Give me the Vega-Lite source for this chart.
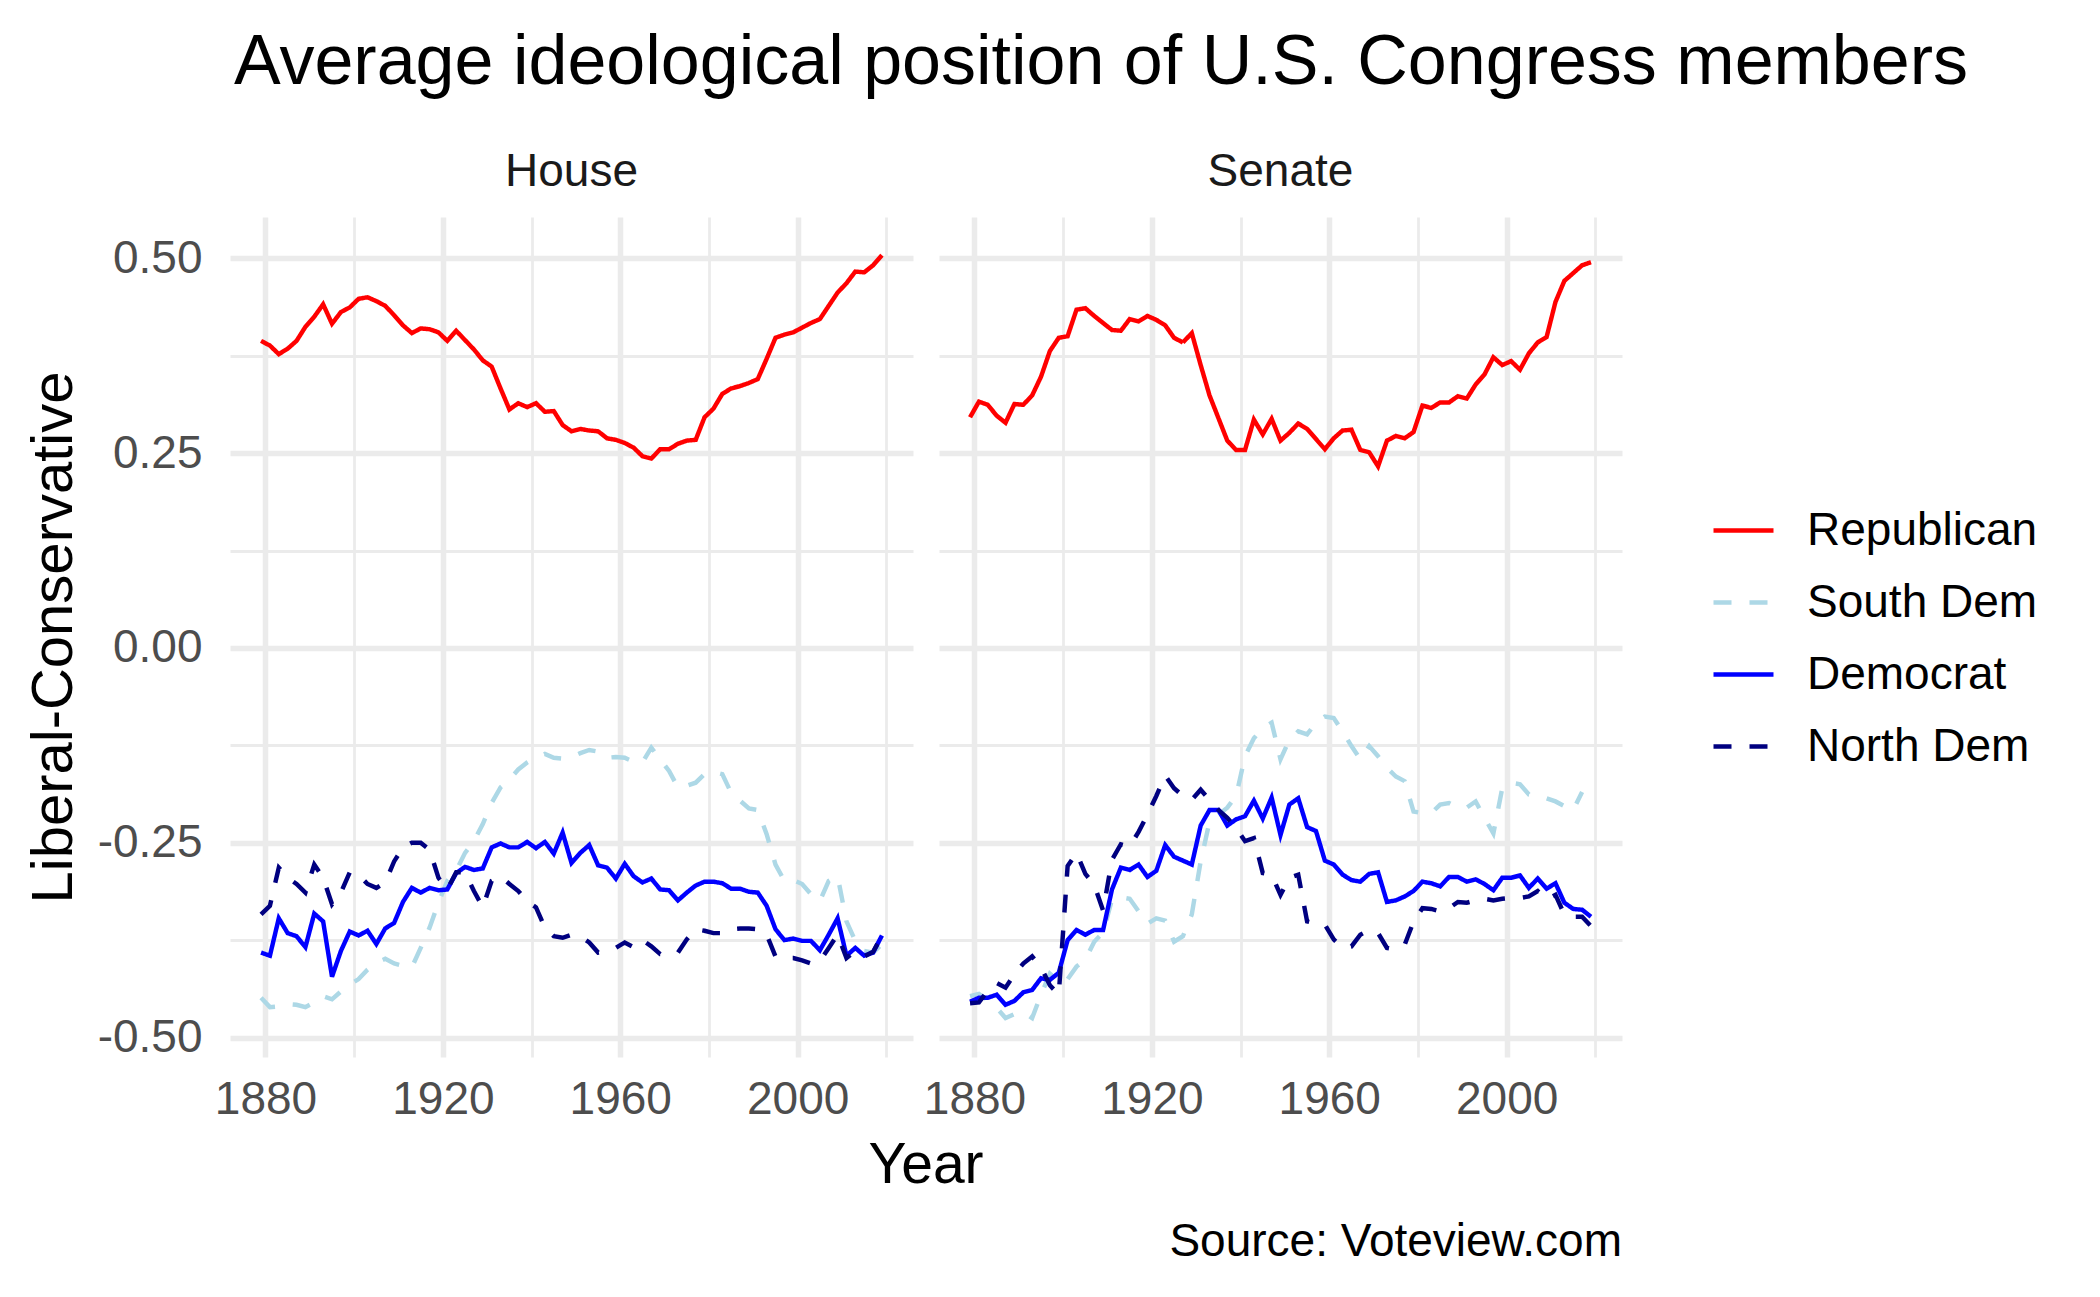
{
  "$schema": "https://vega.github.io/schema/vega-lite/v6.json",
  "padding": {"left": 25, "top": 28, "right": 40, "bottom": 20},
  "background": "white",
  "config": {
    "font": "Liberation Sans",
    "view": {"stroke": null},
    "axis": {"domain": false, "ticks": false, "tickSize": 0, "gridColor": "#EBEBEB", "labelFont": "Liberation Sans", "titleFont": "Liberation Sans"}
  },
  "title": {"text": "Average ideological position of U.S. Congress members", "anchor": "start", "frame": "group", "dx": 4, "fontSize": 70, "fontWeight": "normal", "color": "black", "font": "Liberation Sans", "offset": 50},
  "vconcat": [
    {
      "title": {"text": "Source: Voteview.com", "orient": "bottom", "anchor": "end", "frame": "bounds", "fontSize": 46, "fontWeight": "normal", "color": "black", "font": "Liberation Sans", "offset": 26},
      "data": {"values": [
        {"c":"House","yr":1879,"Republican":0.394,"South Dem":-0.449,"Democrat":-0.391,"North Dem":-0.342},
        {"c":"House","yr":1881,"Republican":0.388,"South Dem":-0.461,"Democrat":-0.395,"North Dem":-0.331},
        {"c":"House","yr":1883,"Republican":0.377,"South Dem":-0.460,"Democrat":-0.347,"North Dem":-0.282},
        {"c":"House","yr":1885,"Republican":0.384,"South Dem":-0.457,"Democrat":-0.366,"North Dem":-0.295},
        {"c":"House","yr":1887,"Republican":0.394,"South Dem":-0.458,"Democrat":-0.370,"North Dem":-0.303},
        {"c":"House","yr":1889,"Republican":0.412,"South Dem":-0.461,"Democrat":-0.384,"North Dem":-0.314},
        {"c":"House","yr":1891,"Republican":0.425,"South Dem":-0.455,"Democrat":-0.341,"North Dem":-0.278},
        {"c":"House","yr":1893,"Republican":0.441,"South Dem":-0.447,"Democrat":-0.351,"North Dem":-0.295},
        {"c":"House","yr":1895,"Republican":0.416,"South Dem":-0.451,"Democrat":-0.422,"North Dem":-0.329},
        {"c":"House","yr":1897,"Republican":0.431,"South Dem":-0.441,"Democrat":-0.389,"North Dem":-0.314},
        {"c":"House","yr":1899,"Republican":0.437,"South Dem":-0.432,"Democrat":-0.364,"North Dem":-0.288},
        {"c":"House","yr":1901,"Republican":0.448,"South Dem":-0.425,"Democrat":-0.369,"North Dem":-0.291},
        {"c":"House","yr":1903,"Republican":0.450,"South Dem":-0.413,"Democrat":-0.363,"North Dem":-0.303},
        {"c":"House","yr":1905,"Republican":0.445,"South Dem":-0.404,"Democrat":-0.380,"North Dem":-0.308},
        {"c":"House","yr":1907,"Republican":0.439,"South Dem":-0.399,"Democrat":-0.360,"North Dem":-0.301},
        {"c":"House","yr":1909,"Republican":0.427,"South Dem":-0.405,"Democrat":-0.353,"North Dem":-0.274},
        {"c":"House","yr":1911,"Republican":0.414,"South Dem":-0.408,"Democrat":-0.326,"North Dem":-0.256},
        {"c":"House","yr":1913,"Republican":0.404,"South Dem":-0.410,"Democrat":-0.308,"North Dem":-0.250},
        {"c":"House","yr":1915,"Republican":0.410,"South Dem":-0.385,"Democrat":-0.314,"North Dem":-0.250},
        {"c":"House","yr":1917,"Republican":0.409,"South Dem":-0.359,"Democrat":-0.308,"North Dem":-0.259},
        {"c":"House","yr":1919,"Republican":0.405,"South Dem":-0.327,"Democrat":-0.311,"North Dem":-0.295},
        {"c":"House","yr":1921,"Republican":0.394,"South Dem":-0.299,"Democrat":-0.310,"North Dem":-0.310},
        {"c":"House","yr":1923,"Republican":0.407,"South Dem":-0.286,"Democrat":-0.289,"North Dem":-0.288},
        {"c":"House","yr":1925,"Republican":0.395,"South Dem":-0.263,"Democrat":-0.281,"North Dem":-0.288},
        {"c":"House","yr":1927,"Republican":0.383,"South Dem":-0.248,"Democrat":-0.285,"North Dem":-0.312},
        {"c":"House","yr":1929,"Republican":0.369,"South Dem":-0.226,"Democrat":-0.283,"North Dem":-0.333},
        {"c":"House","yr":1931,"Republican":0.361,"South Dem":-0.199,"Democrat":-0.256,"North Dem":-0.299},
        {"c":"House","yr":1933,"Republican":0.333,"South Dem":-0.179,"Democrat":-0.251,"North Dem":-0.293},
        {"c":"House","yr":1935,"Republican":0.306,"South Dem":-0.169,"Democrat":-0.256,"North Dem":-0.303},
        {"c":"House","yr":1937,"Republican":0.314,"South Dem":-0.156,"Democrat":-0.256,"North Dem":-0.312},
        {"c":"House","yr":1939,"Republican":0.309,"South Dem":-0.147,"Democrat":-0.249,"North Dem":-0.325},
        {"c":"House","yr":1941,"Republican":0.314,"South Dem":-0.141,"Democrat":-0.257,"North Dem":-0.333},
        {"c":"House","yr":1943,"Republican":0.303,"South Dem":-0.136,"Democrat":-0.249,"North Dem":-0.359},
        {"c":"House","yr":1945,"Republican":0.304,"South Dem":-0.141,"Democrat":-0.264,"North Dem":-0.370},
        {"c":"House","yr":1947,"Republican":0.286,"South Dem":-0.142,"Democrat":-0.237,"North Dem":-0.372},
        {"c":"House","yr":1949,"Republican":0.278,"South Dem":-0.140,"Democrat":-0.276,"North Dem":-0.368},
        {"c":"House","yr":1951,"Republican":0.281,"South Dem":-0.135,"Democrat":-0.263,"North Dem":-0.370},
        {"c":"House","yr":1953,"Republican":0.279,"South Dem":-0.131,"Democrat":-0.253,"North Dem":-0.378},
        {"c":"House","yr":1955,"Republican":0.278,"South Dem":-0.133,"Democrat":-0.279,"North Dem":-0.391},
        {"c":"House","yr":1957,"Republican":0.269,"South Dem":-0.141,"Democrat":-0.282,"North Dem":-0.389},
        {"c":"House","yr":1959,"Republican":0.267,"South Dem":-0.140,"Democrat":-0.296,"North Dem":-0.385},
        {"c":"House","yr":1961,"Republican":0.263,"South Dem":-0.141,"Democrat":-0.277,"North Dem":-0.378},
        {"c":"House","yr":1963,"Republican":0.257,"South Dem":-0.146,"Democrat":-0.293,"North Dem":-0.384},
        {"c":"House","yr":1965,"Republican":0.246,"South Dem":-0.147,"Democrat":-0.301,"North Dem":-0.375},
        {"c":"House","yr":1967,"Republican":0.243,"South Dem":-0.128,"Democrat":-0.296,"North Dem":-0.383},
        {"c":"House","yr":1969,"Republican":0.255,"South Dem":-0.143,"Democrat":-0.310,"North Dem":-0.393},
        {"c":"House","yr":1971,"Republican":0.255,"South Dem":-0.158,"Democrat":-0.311,"North Dem":-0.393},
        {"c":"House","yr":1973,"Republican":0.262,"South Dem":-0.179,"Democrat":-0.324,"North Dem":-0.391},
        {"c":"House","yr":1975,"Republican":0.266,"South Dem":-0.177,"Democrat":-0.314,"North Dem":-0.374},
        {"c":"House","yr":1977,"Republican":0.267,"South Dem":-0.173,"Democrat":-0.305,"North Dem":-0.361},
        {"c":"House","yr":1979,"Republican":0.296,"South Dem":-0.162,"Democrat":-0.300,"North Dem":-0.363},
        {"c":"House","yr":1981,"Republican":0.307,"South Dem":-0.159,"Democrat":-0.300,"North Dem":-0.366},
        {"c":"House","yr":1983,"Republican":0.326,"South Dem":-0.162,"Democrat":-0.302,"North Dem":-0.366},
        {"c":"House","yr":1985,"Republican":0.333,"South Dem":-0.186,"Democrat":-0.309,"North Dem":-0.361},
        {"c":"House","yr":1987,"Republican":0.336,"South Dem":-0.196,"Democrat":-0.309,"North Dem":-0.360},
        {"c":"House","yr":1989,"Republican":0.340,"South Dem":-0.206,"Democrat":-0.313,"North Dem":-0.360},
        {"c":"House","yr":1991,"Republican":0.345,"South Dem":-0.208,"Democrat":-0.314,"North Dem":-0.361},
        {"c":"House","yr":1993,"Republican":0.371,"South Dem":-0.239,"Democrat":-0.331,"North Dem":-0.368},
        {"c":"House","yr":1995,"Republican":0.398,"South Dem":-0.278,"Democrat":-0.361,"North Dem":-0.396},
        {"c":"House","yr":1997,"Republican":0.402,"South Dem":-0.299,"Democrat":-0.375,"North Dem":-0.398},
        {"c":"House","yr":1999,"Republican":0.405,"South Dem":-0.298,"Democrat":-0.373,"North Dem":-0.398},
        {"c":"House","yr":2001,"Republican":0.411,"South Dem":-0.303,"Democrat":-0.376,"North Dem":-0.401},
        {"c":"House","yr":2003,"Republican":0.417,"South Dem":-0.316,"Democrat":-0.376,"North Dem":-0.405},
        {"c":"House","yr":2005,"Republican":0.422,"South Dem":-0.325,"Democrat":-0.388,"North Dem":-0.402},
        {"c":"House","yr":2007,"Republican":0.439,"South Dem":-0.299,"Democrat":-0.368,"North Dem":-0.385},
        {"c":"House","yr":2009,"Republican":0.456,"South Dem":-0.293,"Democrat":-0.347,"North Dem":-0.368},
        {"c":"House","yr":2011,"Republican":0.468,"South Dem":-0.351,"Democrat":-0.395,"North Dem":-0.398},
        {"c":"House","yr":2013,"Republican":0.483,"South Dem":-0.376,"Democrat":-0.385,"North Dem":-0.389},
        {"c":"House","yr":2015,"Republican":0.482,"South Dem":-0.389,"Democrat":-0.395,"North Dem":-0.396},
        {"c":"House","yr":2017,"Republican":0.491,"South Dem":-0.391,"Democrat":-0.391,"North Dem":-0.390},
        {"c":"House","yr":2019,"Republican":0.504,"South Dem":-0.380,"Democrat":-0.369,"North Dem":-0.369},
        {"c":"Senate","yr":1879,"Republican":0.296,"South Dem":-0.447,"Democrat":-0.454,"North Dem":-0.456},
        {"c":"Senate","yr":1881,"Republican":0.316,"South Dem":-0.444,"Democrat":-0.449,"North Dem":-0.455},
        {"c":"Senate","yr":1883,"Republican":0.312,"South Dem":-0.452,"Democrat":-0.449,"North Dem":-0.440},
        {"c":"Senate","yr":1885,"Republican":0.298,"South Dem":-0.462,"Democrat":-0.445,"North Dem":-0.430},
        {"c":"Senate","yr":1887,"Republican":0.289,"South Dem":-0.475,"Democrat":-0.458,"North Dem":-0.436},
        {"c":"Senate","yr":1889,"Republican":0.313,"South Dem":-0.470,"Democrat":-0.453,"North Dem":-0.419},
        {"c":"Senate","yr":1891,"Republican":0.312,"South Dem":-0.467,"Democrat":-0.442,"North Dem":-0.405},
        {"c":"Senate","yr":1893,"Republican":0.324,"South Dem":-0.475,"Democrat":-0.439,"North Dem":-0.396},
        {"c":"Senate","yr":1895,"Republican":0.348,"South Dem":-0.445,"Democrat":-0.424,"North Dem":-0.410},
        {"c":"Senate","yr":1897,"Republican":0.381,"South Dem":-0.418,"Democrat":-0.426,"North Dem":-0.433},
        {"c":"Senate","yr":1899,"Republican":0.398,"South Dem":-0.428,"Democrat":-0.417,"North Dem":-0.445},
        {"c":"Senate","yr":1901,"Republican":0.400,"South Dem":-0.425,"Democrat":-0.375,"North Dem":-0.280},
        {"c":"Senate","yr":1903,"Republican":0.434,"South Dem":-0.409,"Democrat":-0.362,"North Dem":-0.263},
        {"c":"Senate","yr":1905,"Republican":0.436,"South Dem":-0.400,"Democrat":-0.368,"North Dem":-0.290},
        {"c":"Senate","yr":1907,"Republican":0.426,"South Dem":-0.377,"Democrat":-0.362,"North Dem":-0.304},
        {"c":"Senate","yr":1909,"Republican":0.417,"South Dem":-0.365,"Democrat":-0.362,"North Dem":-0.337},
        {"c":"Senate","yr":1911,"Republican":0.408,"South Dem":-0.323,"Democrat":-0.310,"North Dem":-0.272},
        {"c":"Senate","yr":1913,"Republican":0.407,"South Dem":-0.320,"Democrat":-0.282,"North Dem":-0.252},
        {"c":"Senate","yr":1915,"Republican":0.422,"South Dem":-0.322,"Democrat":-0.285,"North Dem":-0.255},
        {"c":"Senate","yr":1917,"Republican":0.419,"South Dem":-0.338,"Democrat":-0.278,"North Dem":-0.236},
        {"c":"Senate","yr":1919,"Republican":0.426,"South Dem":-0.354,"Democrat":-0.294,"North Dem":-0.214},
        {"c":"Senate","yr":1921,"Republican":0.421,"South Dem":-0.347,"Democrat":-0.286,"North Dem":-0.190},
        {"c":"Senate","yr":1923,"Republican":0.414,"South Dem":-0.350,"Democrat":-0.253,"North Dem":-0.164},
        {"c":"Senate","yr":1925,"Republican":0.398,"South Dem":-0.377,"Democrat":-0.268,"North Dem":-0.180},
        {"c":"Senate","yr":1927,"Republican":0.392,"South Dem":-0.370,"Democrat":-0.273,"North Dem":-0.190},
        {"c":"Senate","yr":1929,"Republican":0.404,"South Dem":-0.342,"Democrat":-0.278,"North Dem":-0.195},
        {"c":"Senate","yr":1931,"Republican":0.363,"South Dem":-0.274,"Democrat":-0.228,"North Dem":-0.182},
        {"c":"Senate","yr":1933,"Republican":0.324,"South Dem":-0.223,"Democrat":-0.208,"North Dem":-0.195},
        {"c":"Senate","yr":1935,"Republican":0.295,"South Dem":-0.214,"Democrat":-0.208,"North Dem":-0.208},
        {"c":"Senate","yr":1937,"Republican":0.266,"South Dem":-0.205,"Democrat":-0.228,"North Dem":-0.218},
        {"c":"Senate","yr":1939,"Republican":0.254,"South Dem":-0.190,"Democrat":-0.220,"North Dem":-0.231},
        {"c":"Senate","yr":1941,"Republican":0.254,"South Dem":-0.139,"Democrat":-0.216,"North Dem":-0.248},
        {"c":"Senate","yr":1943,"Republican":0.293,"South Dem":-0.116,"Democrat":-0.196,"North Dem":-0.244},
        {"c":"Senate","yr":1945,"Republican":0.274,"South Dem":-0.103,"Democrat":-0.219,"North Dem":-0.289},
        {"c":"Senate","yr":1947,"Republican":0.294,"South Dem":-0.096,"Democrat":-0.192,"North Dem":-0.291},
        {"c":"Senate","yr":1949,"Republican":0.266,"South Dem":-0.143,"Democrat":-0.240,"North Dem":-0.317},
        {"c":"Senate","yr":1951,"Republican":0.276,"South Dem":-0.118,"Democrat":-0.201,"North Dem":-0.295},
        {"c":"Senate","yr":1953,"Republican":0.288,"South Dem":-0.107,"Democrat":-0.193,"North Dem":-0.291},
        {"c":"Senate","yr":1955,"Republican":0.281,"South Dem":-0.111,"Democrat":-0.230,"North Dem":-0.351},
        {"c":"Senate","yr":1957,"Republican":0.268,"South Dem":-0.096,"Democrat":-0.235,"North Dem":-0.354},
        {"c":"Senate","yr":1959,"Republican":0.255,"South Dem":-0.088,"Democrat":-0.273,"North Dem":-0.355},
        {"c":"Senate","yr":1961,"Republican":0.269,"South Dem":-0.090,"Democrat":-0.278,"North Dem":-0.374},
        {"c":"Senate","yr":1963,"Republican":0.279,"South Dem":-0.107,"Democrat":-0.291,"North Dem":-0.385},
        {"c":"Senate","yr":1965,"Republican":0.280,"South Dem":-0.126,"Democrat":-0.298,"North Dem":-0.383},
        {"c":"Senate","yr":1967,"Republican":0.254,"South Dem":-0.143,"Democrat":-0.300,"North Dem":-0.368},
        {"c":"Senate","yr":1969,"Republican":0.251,"South Dem":-0.126,"Democrat":-0.290,"North Dem":-0.362},
        {"c":"Senate","yr":1971,"Republican":0.233,"South Dem":-0.139,"Democrat":-0.288,"North Dem":-0.366},
        {"c":"Senate","yr":1973,"Republican":0.266,"South Dem":-0.154,"Democrat":-0.326,"North Dem":-0.385},
        {"c":"Senate","yr":1975,"Republican":0.272,"South Dem":-0.165,"Democrat":-0.324,"North Dem":-0.387},
        {"c":"Senate","yr":1977,"Republican":0.269,"South Dem":-0.171,"Democrat":-0.319,"North Dem":-0.381},
        {"c":"Senate","yr":1979,"Republican":0.277,"South Dem":-0.210,"Democrat":-0.312,"North Dem":-0.351},
        {"c":"Senate","yr":1981,"Republican":0.311,"South Dem":-0.212,"Democrat":-0.300,"North Dem":-0.334},
        {"c":"Senate","yr":1983,"Republican":0.308,"South Dem":-0.212,"Democrat":-0.302,"North Dem":-0.335},
        {"c":"Senate","yr":1985,"Republican":0.315,"South Dem":-0.201,"Democrat":-0.306,"North Dem":-0.338},
        {"c":"Senate","yr":1987,"Republican":0.315,"South Dem":-0.199,"Democrat":-0.294,"North Dem":-0.334},
        {"c":"Senate","yr":1989,"Republican":0.323,"South Dem":-0.205,"Democrat":-0.294,"North Dem":-0.326},
        {"c":"Senate","yr":1991,"Republican":0.320,"South Dem":-0.205,"Democrat":-0.300,"North Dem":-0.327},
        {"c":"Senate","yr":1993,"Republican":0.338,"South Dem":-0.197,"Democrat":-0.297,"North Dem":-0.324},
        {"c":"Senate","yr":1995,"Republican":0.351,"South Dem":-0.218,"Democrat":-0.303,"North Dem":-0.322},
        {"c":"Senate","yr":1997,"Republican":0.373,"South Dem":-0.238,"Democrat":-0.311,"North Dem":-0.324},
        {"c":"Senate","yr":1999,"Republican":0.363,"South Dem":-0.180,"Democrat":-0.295,"North Dem":-0.322},
        {"c":"Senate","yr":2001,"Republican":0.368,"South Dem":-0.173,"Democrat":-0.295,"North Dem":-0.321},
        {"c":"Senate","yr":2003,"Republican":0.357,"South Dem":-0.175,"Democrat":-0.292,"North Dem":-0.321},
        {"c":"Senate","yr":2005,"Republican":0.378,"South Dem":-0.188,"Democrat":-0.308,"North Dem":-0.319},
        {"c":"Senate","yr":2007,"Republican":0.392,"South Dem":-0.190,"Democrat":-0.296,"North Dem":-0.312},
        {"c":"Senate","yr":2009,"Republican":0.399,"South Dem":-0.193,"Democrat":-0.309,"North Dem":-0.323},
        {"c":"Senate","yr":2011,"Republican":0.444,"South Dem":-0.197,"Democrat":-0.302,"North Dem":-0.317},
        {"c":"Senate","yr":2013,"Republican":0.471,"South Dem":-0.203,"Democrat":-0.327,"North Dem":-0.342},
        {"c":"Senate","yr":2015,"Republican":0.481,"South Dem":-0.208,"Democrat":-0.335,"North Dem":-0.345},
        {"c":"Senate","yr":2017,"Republican":0.491,"South Dem":-0.185,"Democrat":-0.336,"North Dem":-0.345},
        {"c":"Senate","yr":2019,"Republican":0.495,"South Dem":null,"Democrat":-0.345,"North Dem":-0.357}
      ]},
      "transform": [{"fold": ["Republican", "South Dem", "Democrat", "North Dem"], "as": ["party", "value"]}],
      "facet": {"column": {"field": "c", "type": "nominal", "header": {"title": "Year", "titleOrient": "bottom", "labelOrient": "top", "labelFontSize": 46, "labelColor": "#1A1A1A", "labelFont": "Liberation Sans", "labelPadding": -15, "labelBaseline": "alphabetic", "titleFontSize": 57, "titleFontWeight": "normal", "titleColor": "black", "titleFont": "Liberation Sans", "titlePadding": 6}}},
      "spacing": 26,
      "spec": {
        "width": 683,
        "height": 840,
        "mark": {"type": "line", "strokeWidth": 4.45},
        "encoding": {
          "x": {"field": "yr", "type": "quantitative", "scale": {"domain": [1872, 2026], "nice": false, "zero": false},
            "axis": {"title": null, "values": [1880, 1900, 1920, 1940, 1960, 1980, 2000, 2020], "labelExpr": "(datum.value - 1880) % 40 == 0 ? toString(datum.value) : ''", "labelFontSize": 46, "labelColor": "#4D4D4D", "labelPadding": 20, "labelFlush": false, "labelOverlap": false, "grid": true,
              "gridWidth": {"condition": {"test": "(datum.value - 1880) % 40 == 0", "value": 5.5}, "value": 2.8}}},
          "y": {"field": "value", "type": "quantitative", "scale": {"domain": [-0.525, 0.553], "nice": false, "zero": false},
            "axis": {"title": "Liberal-Conservative", "values": [-0.5, -0.375, -0.25, -0.125, 0, 0.125, 0.25, 0.375, 0.5], "labelExpr": "abs(datum.value*4 - round(datum.value*4)) < 0.001 ? replace(format(datum.value, '.2f'), '\u2212', '-') : ''", "labelFontSize": 46, "labelColor": "#4D4D4D", "labelPadding": 28, "labelOverlap": false, "labelFlush": false, "grid": true,
              "gridWidth": {"condition": {"test": "abs(datum.value*4 - round(datum.value*4)) < 0.001", "value": 5.5}, "value": 2.8},
              "titleFontSize": 58, "titleFontWeight": "normal", "titleColor": "black", "titlePadding": 14}},
          "color": {"field": "party", "type": "nominal", "scale": {"domain": ["Republican", "South Dem", "Democrat", "North Dem"], "range": ["#FF0000", "#ADD8E6", "#0000FF", "#000080"]},
            "legend": {"title": null, "orient": "none", "legendX": 1481, "legendY": 281, "symbolType": "stroke", "symbolSize": 3600, "symbolStrokeWidth": 4.45, "labelFontSize": 46, "labelColor": "black", "labelFont": "Liberation Sans", "labelOffset": 31, "labelLimit": 500, "rowPadding": 16}},
          "strokeDash": {"field": "party", "type": "nominal", "scale": {"domain": ["Republican", "South Dem", "Democrat", "North Dem"], "range": [[1, 0], [18, 18], [1, 0], [18, 18]]},
            "legend": {"title": null, "orient": "none", "legendX": 1481, "legendY": 281, "symbolType": "stroke", "symbolSize": 3600, "symbolStrokeWidth": 4.45, "labelFontSize": 46, "labelColor": "black", "labelFont": "Liberation Sans", "labelOffset": 31, "labelLimit": 500, "rowPadding": 16}}
        }
      }
    }
  ]
}
